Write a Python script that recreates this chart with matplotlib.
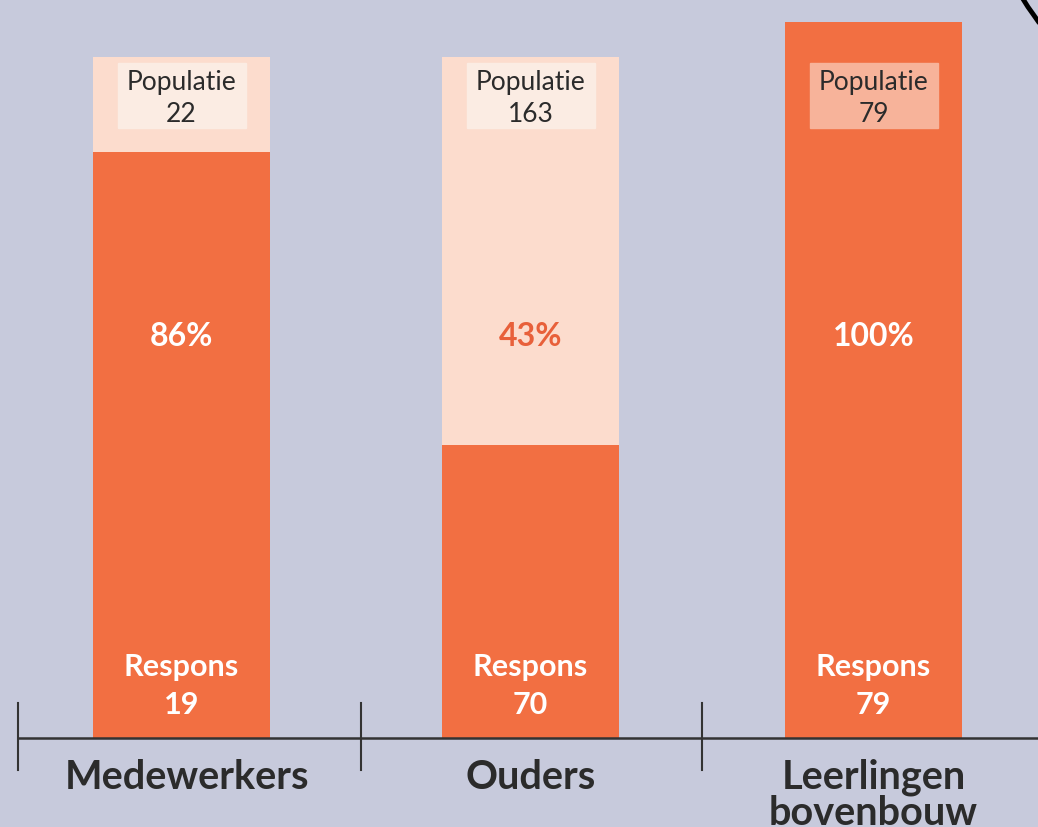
import matplotlib
matplotlib.use("Agg")
import matplotlib.pyplot as plt
from matplotlib.patches import Rectangle
from matplotlib.lines import Line2D

# data
groups = ["Medewerkers", "Ouders", "Leerlingen\nbovenbouw"]
population = [22, 163, 79]
respons = [19, 70, 79]
pct = [86, 43, 100]
# third bar is drawn a bit taller in the original
bar_height = [100, 100, 105.1]

bg = "#c7cadc"
orange = "#f26f42"
peach = "#fcdccd"
dark = "#2b2b2b"

plt.rcParams["font.family"] = ["Lato", "DejaVu Sans"]

fig = plt.figure(figsize=(10.38, 8.27), dpi=100)
fig.patch.set_facecolor(bg)
ax = fig.add_axes([0, 0, 1, 1])
ax.set_facecolor(bg)
ax.set_xlim(-0.5246, 2.4754)
ax.set_ylim(-13.07, 108.37)
ax.axis("off")

x = [0, 1.0087, 2]
w = 0.51

resp_height = [p / 100 * h for p, h in zip(pct, bar_height)]

# full bar (population) and response part
ax.bar(x, bar_height, width=w, color=peach, zorder=1)
ax.bar(x, resp_height, width=w, color=orange, zorder=2)

for i, xi in enumerate(x):
    # population label box
    boxcol = "#f7b39a" if pct[i] == 100 else "#fbece3"
    ax.add_patch(Rectangle((xi - 0.185, 89.6), 0.37, 9.5, color=boxcol, zorder=3))
    ax.text(xi, 96.3, "Populatie", ha="center", va="center", fontsize=19, color=dark, zorder=4)
    ax.text(xi, 91.6, str(population[i]), ha="center", va="center", fontsize=19, color=dark, zorder=4)
    # percentage
    pc = "white" if pct[i] > 60 else "#e8603a"
    ax.text(xi, 58.9, f"{pct[i]}%", ha="center", va="center", fontsize=23,
            fontweight="bold", color=pc, zorder=4)
    # response
    ax.text(xi, 10.4, "Respons", ha="center", va="center", fontsize=22,
            fontweight="bold", color="white", zorder=4)
    ax.text(xi, 4.9, str(respons[i]), ha="center", va="center", fontsize=22,
            fontweight="bold", color="white", zorder=4)
    # category
    ax.text(xi + (0.015 if i == 0 else 0), -8.4 if "\n" in groups[i] else -5.8, groups[i],
            ha="center", va="center", fontsize=28.5, fontweight="bold", color=dark,
            linespacing=0.95, zorder=4)

# axis line with separators
ax.plot([-0.4725, 2.48], [0, 0], color="#333333", lw=1.8, zorder=5, clip_on=False)
for sx in [-0.4725, 0.519, 1.504]:
    ax.plot([sx, sx], [5.14, -4.70], color="#333333", lw=1.5, zorder=5)

# bit of a frame in the top-right corner
cx = [1023 / 1038, 1028 / 1038, 1033 / 1038, 1040 / 1038]
cy = [1 + 1 / 827, 1 - 7 / 827, 1 - 14 / 827, 1 - 24 / 827]
fig.add_artist(Line2D(cx, cy, transform=fig.transFigure, color="black", lw=3.5,
                      solid_capstyle="round"))

fig.savefig("out.png", dpi=100, facecolor=bg)
